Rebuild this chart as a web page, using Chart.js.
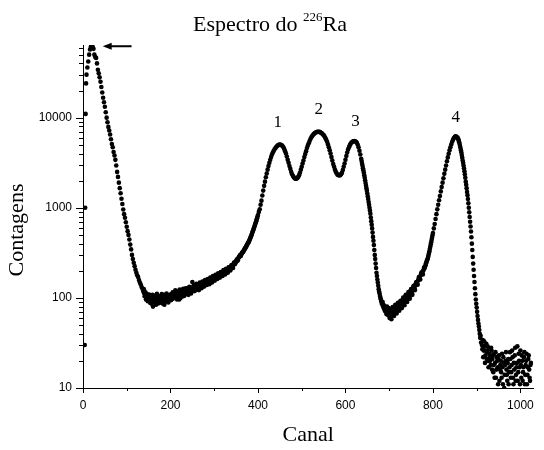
<!DOCTYPE html>
<html>
<head>
<meta charset="utf-8">
<script src="https://cdn.jsdelivr.net/npm/chart.js@4.4.0/dist/chart.umd.min.js"></script>
<style>
  html, body { margin: 0; padding: 0; background: #fff; }
  canvas { display: block; }
</style>
</head>
<body>
<canvas id="espectro" width="544" height="450"></canvas>
<script>
// Espectro do 226Ra - contagens por canal

// primeiros canais (borda esquerda e pico de baixa energia)
const canaisInicio = [4, 5, 6, 7, 8, 10, 12, 14, 16, 18, 20, 22, 24, 26, 28];
const contagensInicio = [30, 1000, 11000, 24000, 30000, 36000, 42000, 50000, 57000, 61000, 62000, 61000, 58000, 50000, 47000];

// canais 30..136, passo 2 (queda inicial)
const contagensQueda = [
  46000, 40000, 34000, 31000, 28000, 25000, 21900, 19000, 16600, 14800,
  13200, 11500, 10000, 8900, 7900, 7200, 6500, 5750, 5100, 4700,
  4150, 3800, 3400, 2950, 2500, 2200, 1900, 1650, 1450, 1260,
  1100, 955, 850, 775, 690, 615, 550, 500, 445, 390,
  345, 300, 270, 245, 225, 205, 190, 178, 170, 158,
  148, 141, 132, 126
];

// canais 138..400, passo 2 (fundo)
const contagensFundo = [
  118, 112, 108, 96, 110, 92, 104, 98, 88, 105,
  94, 80, 100, 91, 106, 95, 99, 87, 103, 92,
  97, 110, 90, 101, 84, 96, 104, 93, 99, 107,
  95, 102, 110, 97, 106, 113, 100, 108, 118, 102,
  111, 96, 115, 108, 120, 104, 112, 124, 109, 118,
  127, 113, 122, 131, 116, 125, 150, 120, 130, 138,
  122, 133, 141, 127, 136, 145, 130, 140, 150, 135,
  146, 155, 141, 150, 160, 146, 157, 166, 152, 162,
  172, 158, 168, 178, 165, 174, 184, 170, 181, 192,
  178, 188, 199, 186, 197, 208, 196, 207, 219, 207,
  220, 232, 222, 235, 249, 240, 254, 268, 262, 280,
  292, 290, 305, 318, 322, 338, 352, 362, 380, 396,
  412, 430, 455, 480, 510, 545, 580, 620, 665, 710,
  765, 830
];

// canais 139..399, passo 2 (fundo, canais ímpares)
const contagensFundoImpar = [
  125, 104, 115, 99, 106, 95, 109, 91, 100, 86,
  108, 97, 89, 102, 84, 111, 94, 100, 88, 105,
  93, 98, 86, 108, 100, 91, 112, 96, 89, 101,
  108, 94, 104, 115, 99, 109, 121, 103, 96, 114,
  106, 124, 100, 113, 108, 126, 105, 117, 128, 112,
  121, 108, 133, 118, 112, 129, 124, 137, 119, 128,
  143, 126, 135, 122, 148, 138, 128, 152, 142, 134,
  158, 146, 139, 162, 152, 142, 168, 158, 148, 175,
  164, 155, 180, 170, 162, 188, 177, 168, 194, 184,
  175, 203, 192, 182, 210, 200, 190, 218, 212, 201,
  228, 224, 215, 244, 236, 248, 262, 258, 275, 285,
  298, 296, 312, 320, 332, 345, 358, 372, 388, 404,
  421, 442, 468, 495, 528, 562, 600, 642, 688, 738,
  798
];

// canais 402..636, passo 2 (picos 1, 2 e 3)
const contagensPicos = [
  900, 960, 1080, 1200, 1370, 1550, 1750, 1950, 2180, 2400,
  2650, 2900, 3150, 3400, 3650, 3900, 4100, 4300, 4450, 4600,
  4750, 4850, 4950, 5000, 5020, 5000, 4950, 4850, 4700, 4500,
  4250, 4000, 3700, 3400, 3150, 2900, 2700, 2500, 2350, 2250,
  2180, 2120, 2100, 2100, 2140, 2200, 2300, 2450, 2650, 2850,
  3100, 3350, 3650, 3950, 4250, 4600, 4900, 5200, 5500, 5800,
  6050, 6250, 6450, 6600, 6750, 6850, 6920, 6950, 6970, 6950,
  6900, 6800, 6700, 6550, 6400, 6200, 5950, 5700, 5400, 5050,
  4700, 4350, 4000, 3650, 3350, 3050, 2850, 2650, 2500, 2400,
  2330, 2300, 2290, 2300, 2360, 2450, 2620, 2850, 3100, 3400,
  3750, 4100, 4420, 4700, 4950, 5150, 5300, 5400, 5470, 5500,
  5470, 5400, 5250, 5000, 4700, 4300, 3900, 3500
];

// canais 637..700, passo 1 (queda após o pico 3)
const contagensQueda3 = [
  3300, 3100, 2920, 2750, 2600, 2450, 2300, 2150, 2020, 1880,
  1760, 1650, 1540, 1440, 1340, 1250, 1160, 1080, 1000, 930,
  860, 780, 710, 650, 590, 530, 475, 430, 385, 340,
  300, 270, 240, 215, 190, 175, 160, 148, 136, 125,
  118, 112, 105, 100, 96, 92, 88, 85, 90, 80,
  84, 76, 81, 72, 78, 70, 75, 66, 80, 69,
  73, 64, 77, 68
];

// canais 702..856, passo 2 (vale e subida do pico 4)
const contagensVale = [
  74, 62, 70, 79, 66, 73, 84, 70, 77, 88,
  76, 82, 93, 80, 90, 101, 87, 97, 108, 95,
  104, 116, 102, 112, 125, 113, 122, 136, 126, 137,
  150, 142, 155, 170, 162, 178, 192, 186, 200, 218,
  222, 240, 258, 272, 300, 330, 370, 415, 465, 525,
  590, 660, 750, 850, 960, 1080, 1210, 1350, 1520, 1700,
  1900, 2120, 2380, 2650, 2950, 3280, 3620, 3980, 4350, 4700,
  5050, 5400, 5700, 5950, 6150, 6200, 6150, 6000
];

// canais 701..799, passo 2 (vale, canais ímpares)
const contagensValeImpar = [
  60, 70, 58, 76, 68, 63, 80, 72, 67, 85,
  78, 72, 90, 84, 77, 96, 90, 83, 104, 98,
  90, 110, 106, 98, 120, 118, 108, 132, 130, 122,
  145, 148, 140, 162, 168, 160, 185, 190, 182, 208,
  215, 230, 248, 265, 285, 315, 350, 392, 440, 495
];

// canais 857..910, passo 1 (queda do pico 4)
const contagensQueda4 = [
  5900, 5750, 5550, 5350, 5100, 4850, 4600, 4350, 4100, 3850,
  3600, 3350, 3150, 2950, 2750, 2550, 2350, 2150, 1950, 1800,
  1650, 1500, 1380, 1250, 1120, 1000, 890, 790, 700, 620,
  545, 470, 400, 340, 285, 240, 205, 175, 150, 128,
  110, 96, 86, 78, 70, 63, 57, 52, 48, 44,
  40, 36, 38, 32
];

// canais 912..1024, passo 2 (cauda)
const contagensCauda = [
  30, 34, 26, 29, 23, 31, 25, 20, 27, 22,
  18, 26, 21, 15, 24, 19, 13, 22, 17, 21,
  12, 18, 15, 24, 11, 19, 14, 20, 16, 12,
  21, 15, 25, 13, 18, 22, 11, 16, 28, 14,
  19, 12, 24, 17, 26, 13, 20, 15, 22, 11,
  18, 24, 14, 21, 16, 12, 19
];

// canais 913..1023, passo 2 (cauda, canais ímpares)
const contagensCaudaImpar = [
  27, 22, 33, 19, 26, 21, 29, 17, 24, 20,
  28, 16, 23, 18, 13, 25, 16, 20, 11, 23,
  16, 20, 13, 17, 22, 10, 18, 25, 14, 19,
  11, 17, 21, 15, 26, 13, 19, 23, 12, 17,
  29, 15, 20, 11, 18, 23, 12, 17, 25, 14,
  20, 11, 17, 23, 13, 18
];

// eixos
const ticksX = [0, 200, 400, 600, 800, 1000];
const ticksY = [10, 100, 1000, 10000];

// rótulos dos picos e seta (coordenadas em canal / contagens)
const rotulos = ['1', '2', '3', '4'];
const rotuloCanal = [445, 539, 623, 852];
const rotuloContagem = [8800, 12300, 9100, 10000];
const setaCanal = [111, 45];
const setaContagem = 62000;

function faixa(inicio, passo, valores) {
  return valores.map((v, i) => ({ x: inicio + i * passo, y: v }));
}

const pontos = [
  ...canaisInicio.map((c, i) => ({ x: c, y: contagensInicio[i] })),
  ...faixa(30, 2, contagensQueda),
  ...faixa(138, 2, contagensFundo),
  ...faixa(139, 2, contagensFundoImpar),
  ...faixa(402, 2, contagensPicos),
  ...faixa(637, 1, contagensQueda3),
  ...faixa(702, 2, contagensVale),
  ...faixa(701, 2, contagensValeImpar),
  ...faixa(857, 1, contagensQueda4),
  ...faixa(912, 2, contagensCauda),
  ...faixa(913, 2, contagensCaudaImpar)
];

const SERIF = '"Liberation Serif", "Times New Roman", serif';
const SANS = '"Liberation Sans", Arial, sans-serif';

// marcas dos eixos, título, rótulos e seta
const extras = {
  id: 'extras',
  afterDraw(chart) {
    const ctx = chart.ctx;
    const x = chart.scales.x;
    const y = chart.scales.y;
    const area = chart.chartArea;
    ctx.save();
    ctx.strokeStyle = '#000';
    ctx.lineWidth = 1;

    // marcas do eixo y (log)
    ctx.beginPath();
    for (let d = 10; d <= y.max; d *= 10) {
      for (let m = 1; m <= 9; m++) {
        const v = m * d;
        if (v > y.max) break;
        const py = Math.round(y.getPixelForValue(v)) + 0.5;
        const len = m === 1 ? 7 : 4;
        ctx.moveTo(area.left - len, py);
        ctx.lineTo(area.left, py);
      }
    }
    // marcas do eixo x
    for (let v = 0; v <= 1000; v += 100) {
      const px = Math.round(x.getPixelForValue(v)) + 0.5;
      const len = v % 200 === 0 ? 5 : 3;
      ctx.moveTo(px, area.bottom);
      ctx.lineTo(px, area.bottom + len);
    }
    ctx.stroke();

    ctx.fillStyle = '#000';

    // título com sobrescrito
    const partes = [['Espectro do ', 22, 0], ['226', 13, -10], ['Ra', 22, 0]];
    let total = 0;
    partes.forEach(p => { ctx.font = p[1] + 'px ' + SERIF; total += ctx.measureText(p[0]).width; });
    let tx = 270 - total / 2;
    ctx.textBaseline = 'alphabetic';
    ctx.textAlign = 'left';
    partes.forEach(p => {
      ctx.font = p[1] + 'px ' + SERIF;
      ctx.fillText(p[0], tx, 31 + p[2]);
      tx += ctx.measureText(p[0]).width;
    });

    // títulos dos eixos
    ctx.font = '22px ' + SERIF;
    ctx.textAlign = 'center';
    ctx.textBaseline = 'middle';
    ctx.fillText('Canal', (area.left + area.right) / 2, 435);
    ctx.save();
    ctx.translate(17, 230);
    ctx.rotate(-Math.PI / 2);
    ctx.fillText('Contagens', 0, 0);
    ctx.restore();

    // rótulos dos picos
    ctx.font = '17px ' + SERIF;
    rotulos.forEach((r, i) => {
      ctx.fillText(r, x.getPixelForValue(rotuloCanal[i]), y.getPixelForValue(rotuloContagem[i]));
    });

    // seta
    const sx0 = x.getPixelForValue(setaCanal[0]);
    const sx1 = x.getPixelForValue(setaCanal[1]);
    const sy = y.getPixelForValue(setaContagem);
    ctx.lineWidth = 2;
    ctx.beginPath();
    ctx.moveTo(sx0, sy);
    ctx.lineTo(sx1 + 6, sy);
    ctx.stroke();
    ctx.beginPath();
    ctx.moveTo(sx1, sy);
    ctx.lineTo(sx1 + 9, sy - 3.5);
    ctx.lineTo(sx1 + 9, sy + 3.5);
    ctx.closePath();
    ctx.fill();
    ctx.restore();
  }
};

new Chart(document.getElementById('espectro'), {
  type: 'scatter',
  data: {
    datasets: [{
      data: pontos,
      backgroundColor: '#000',
      borderWidth: 0,
      pointRadius: 2.3,
      pointHoverRadius: 2.3
    }]
  },
  options: {
    responsive: false,
    animation: false,
    events: [],
    layout: { padding: { top: 45, right: 8, left: 0, bottom: 0 } },
    plugins: {
      legend: { display: false },
      title: { display: false },
      tooltip: { enabled: false }
    },
    scales: {
      x: {
        type: 'linear',
        min: 0,
        max: 1030,
        afterFit: s => { s.height = 62; },
        afterBuildTicks: s => { s.ticks = ticksX.map(v => ({ value: v })); },
        grid: { display: false, drawTicks: false },
        border: { display: true, color: '#000', width: 1 },
        ticks: {
          autoSkip: false,
          maxRotation: 0,
          padding: 10,
          color: '#000',
          font: { family: SANS, size: 12 },
          callback: v => String(v)
        }
      },
      y: {
        type: 'logarithmic',
        min: 10,
        max: 64000,
        afterFit: s => { s.width = 83; },
        afterBuildTicks: s => { s.ticks = ticksY.map(v => ({ value: v })); },
        grid: { display: false, drawTicks: false },
        border: { display: true, color: '#000', width: 1 },
        ticks: {
          autoSkip: false,
          padding: 11,
          color: '#000',
          font: { family: SANS, size: 12 },
          callback: v => String(v)
        }
      }
    }
  },
  plugins: [extras]
});
</script>
</body>
</html>
